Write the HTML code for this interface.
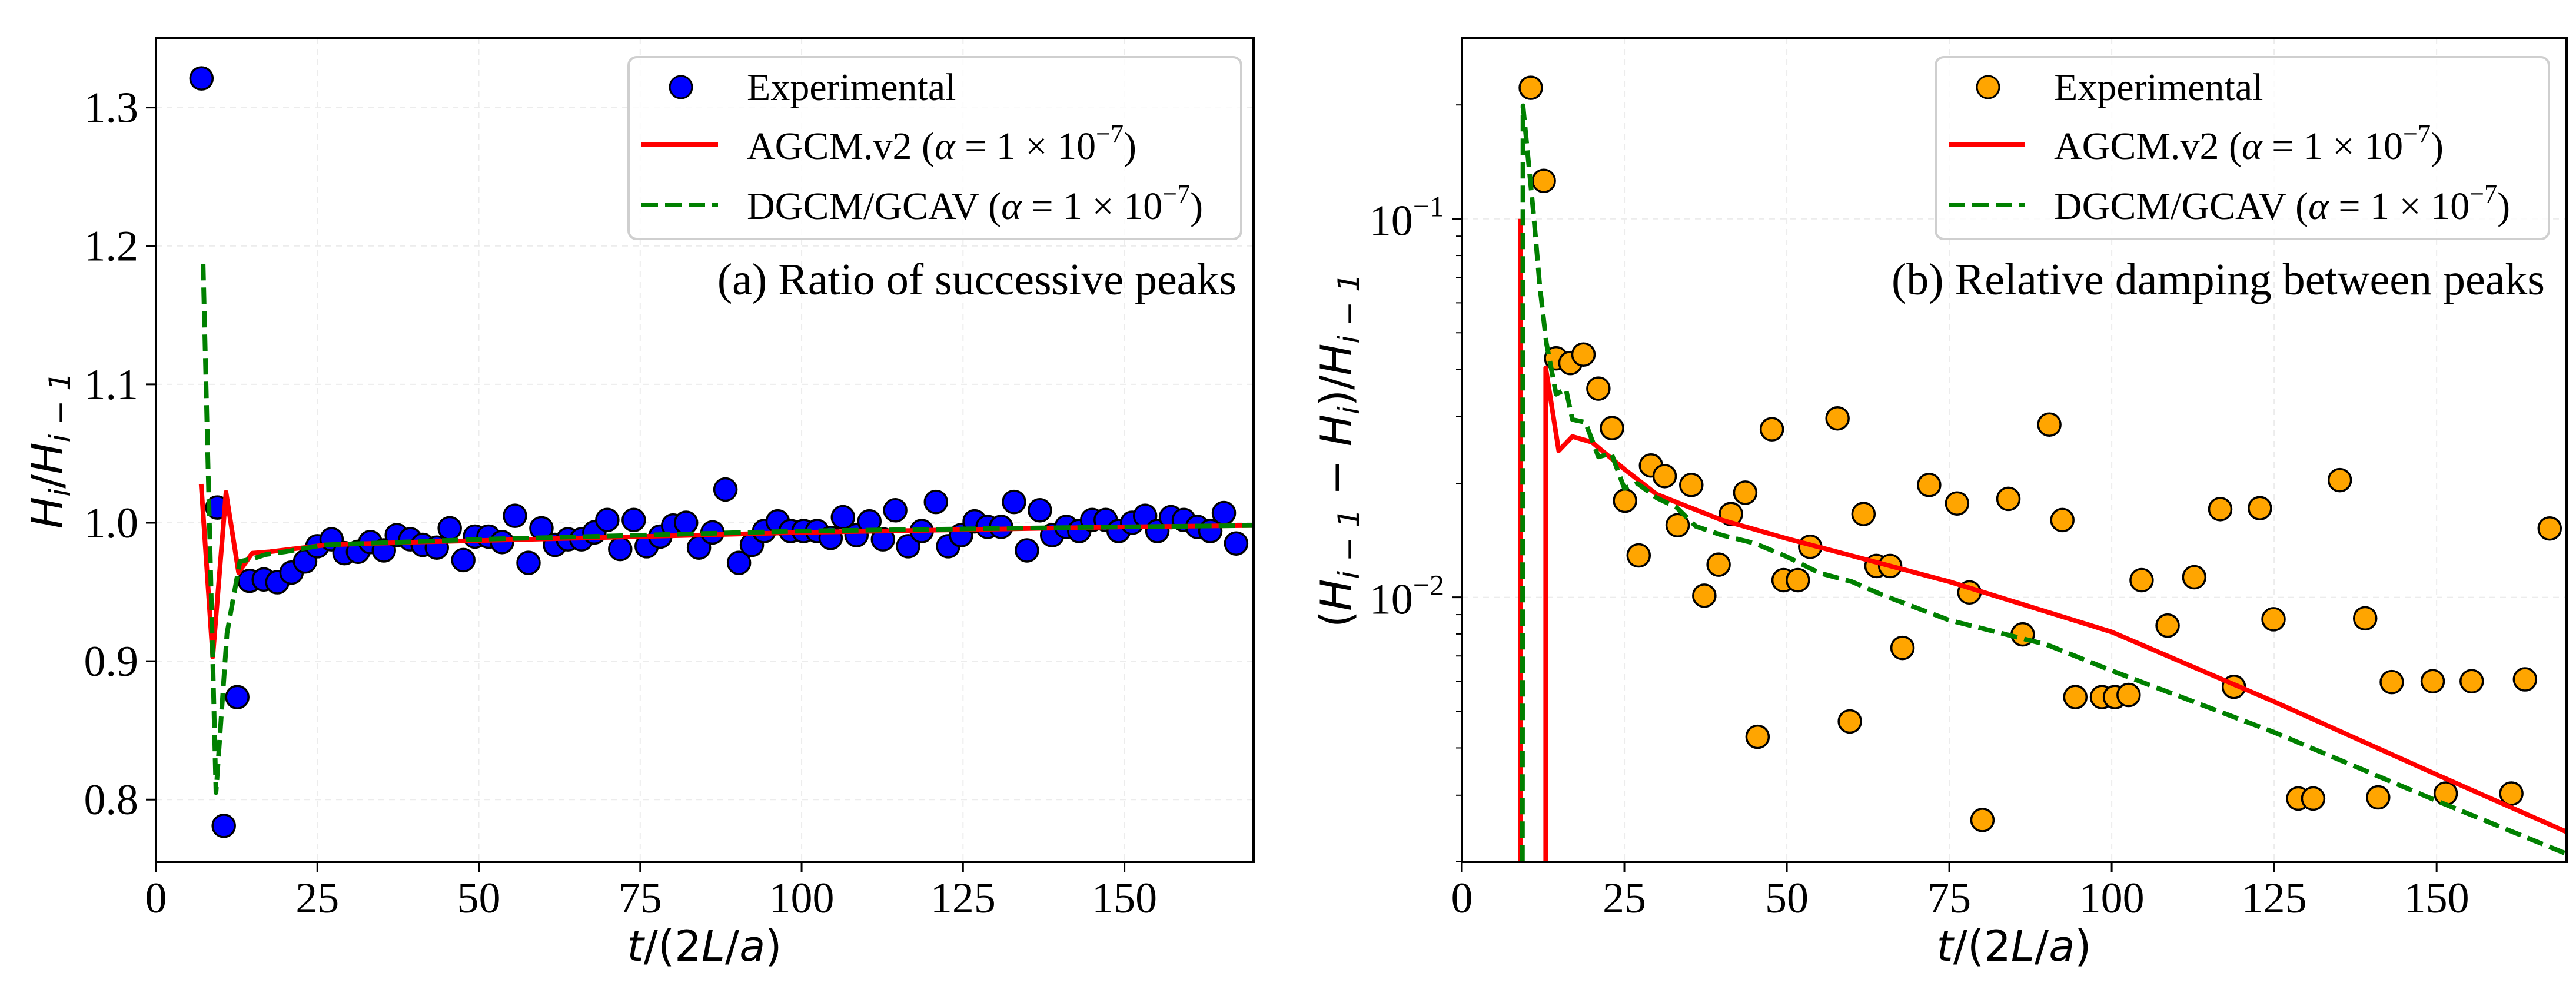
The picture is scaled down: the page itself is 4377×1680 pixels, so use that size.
<!DOCTYPE html>
<html><head><meta charset="utf-8">
<style>
html,body{margin:0;padding:0;background:#fff;overflow:hidden;width:4377px;height:1680px;}
svg{display:block;}
.tick{font-family:"Liberation Serif",serif;font-size:74px;fill:#000;}
.leg{font-family:"Liberation Serif",serif;font-size:66px;fill:#000;}
.ann{font-family:"Liberation Serif",serif;font-size:76px;fill:#000;}
.lab{font-family:"DejaVu Sans",sans-serif;font-size:72px;font-style:italic;fill:#000;}
.up{font-style:normal;}
</style></head>
<body>
<svg id="fig" width="4377" height="1680" viewBox="0 0 4377 1680" xmlns="http://www.w3.org/2000/svg">
<defs>
<clipPath id="clipA"><rect x="265" y="65" width="1865" height="1399"/></clipPath>
<clipPath id="clipB"><rect x="2484" y="65" width="1877" height="1399"/></clipPath>
</defs>
<rect x="0" y="0" width="4377" height="1680" fill="#fff"/>
<g id="gridA"></g>
<g id="gridB"></g>
<g id="plotA" clip-path="url(#clipA)"></g>
<g id="plotB" clip-path="url(#clipB)"></g>
<rect x="265" y="65" width="1865" height="1399" fill="none" stroke="#000" stroke-width="4"/>
<rect x="2484" y="65" width="1877" height="1399" fill="none" stroke="#000" stroke-width="4"/>
<g id="ticksA"></g>
<g id="ticksB"></g>

<text class="lab" x="1197" y="1632" text-anchor="middle">t<tspan class="up">/(2</tspan>L<tspan class="up">/</tspan>a<tspan class="up">)</tspan></text>
<text class="lab" x="3422" y="1632" text-anchor="middle">t<tspan class="up">/(2</tspan>L<tspan class="up">/</tspan>a<tspan class="up">)</tspan></text>
<text class="lab" transform="translate(105,765) rotate(-90)" text-anchor="middle">H<tspan font-size="50" dy="14">i</tspan><tspan class="up" dy="-14">/</tspan>H<tspan font-size="50" dy="14">i <tspan class="up">−</tspan> 1</tspan></text>
<text class="lab" transform="translate(2295,765) rotate(-90)" text-anchor="middle"><tspan class="up">(</tspan>H<tspan font-size="50" dy="14">i <tspan class="up">−</tspan> 1</tspan><tspan class="up" dy="-14"> − </tspan>H<tspan font-size="50" dy="14">i</tspan><tspan class="up" dy="-14">)/</tspan>H<tspan font-size="50" dy="14">i <tspan class="up">−</tspan> 1</tspan></text>

<g>
<rect x="1068" y="97" width="1041" height="309" rx="14" fill="#fff" fill-opacity="0.8" stroke="#cfcfcf" stroke-width="4"/>
<circle cx="1157" cy="148" r="19" fill="#0000ff" stroke="#000" stroke-width="3"/>
<text class="leg" x="1269" y="170">Experimental</text>
<line x1="1090" y1="246" x2="1220" y2="246" stroke="#ff0000" stroke-width="8"/>
<text class="leg" x="1269" y="270">AGCM.v2 (<tspan font-style="italic">α</tspan> = 1 × 10<tspan font-size="44" dy="-28">−7</tspan><tspan dy="28">)</tspan></text>
<line x1="1090" y1="348" x2="1220" y2="348" stroke="#008000" stroke-width="8" stroke-dasharray="28,12"/>
<text class="leg" x="1269" y="372">DGCM/GCAV (<tspan font-style="italic">α</tspan> = 1 × 10<tspan font-size="44" dy="-28">−7</tspan><tspan dy="28">)</tspan></text>
</g>
<text class="ann" x="2101" y="500" text-anchor="end">(a) Ratio of successive peaks</text>

<g>
<rect x="3289" y="97" width="1042" height="309" rx="14" fill="#fff" fill-opacity="0.8" stroke="#cfcfcf" stroke-width="4"/>
<circle cx="3378" cy="148" r="19" fill="#ffa500" stroke="#000" stroke-width="3"/>
<text class="leg" x="3490" y="170">Experimental</text>
<line x1="3311" y1="246" x2="3441" y2="246" stroke="#ff0000" stroke-width="8"/>
<text class="leg" x="3490" y="270">AGCM.v2 (<tspan font-style="italic">α</tspan> = 1 × 10<tspan font-size="44" dy="-28">−7</tspan><tspan dy="28">)</tspan></text>
<line x1="3311" y1="348" x2="3441" y2="348" stroke="#008000" stroke-width="8" stroke-dasharray="28,12"/>
<text class="leg" x="3490" y="372">DGCM/GCAV (<tspan font-style="italic">α</tspan> = 1 × 10<tspan font-size="44" dy="-28">−7</tspan><tspan dy="28">)</tspan></text>
</g>
<text class="ann" x="4324" y="500" text-anchor="end">(b) Relative damping between peaks</text>
</svg>
<script>
// ---- Panel (a) data ----
const expAT = [7.05,9.5,10.5,12.6,14.5,16.7,18.8,21,23.1,25,27.2,29.2,31.3,33.2,35.3,37.3,39.4,41.3,43.5,45.5,47.6,49.4,51.5,53.6,55.6,57.7,59.7,61.8,63.8,65.9,67.9,69.9,71.9,74,76,78.1,80.1,82.1,84.1,86.2,88.2,90.3,92.3,94.2,96.3,98.3,100.3,102.4,104.5,106.4,108.5,110.5,112.6,114.5,116.5,118.6,120.8,122.7,124.7,126.8,128.8,130.9,132.9,134.9,136.9,138.8,141,143,145,147.1,149.1,151.2,153.2,155.1,157.2,159.2,161.3,163.3,165.4,167.3];
const expAV = [1.321,1.011,0.781,0.874,0.958,0.959,0.957,0.964,0.972,0.983,0.988,0.978,0.979,0.986,0.980,0.991,0.988,0.984,0.982,0.996,0.973,0.990,0.990,0.986,1.005,0.971,0.996,0.984,0.988,0.988,0.993,1.002,0.981,1.002,0.983,0.990,0.998,1.000,0.982,0.993,1.024,0.971,0.984,0.994,1.001,0.994,0.994,0.994,0.989,1.004,0.991,1.001,0.988,1.009,0.983,0.994,1.015,0.983,0.991,1.001,0.997,0.997,1.015,0.980,1.009,0.991,0.997,0.994,1.002,1.002,0.994,1.000,1.005,0.994,1.004,1.002,0.997,0.994,1.007,0.985];
const agcmAT = [7,8.8,10.85,12.8,14.9,17.6,26.4,40,75,100,125,150,170];
const agcmAV = [1.028,0.903,1.022,0.964,0.978,0.979,0.984,0.986,0.990,0.993,0.995,0.997,0.998];
const dgcmAT = [7.3,9.3,11,13,15,17,20,26,50,100,150,170];
const dgcmAV = [1.187,0.805,0.92,0.972,0.974,0.977,0.979,0.984,0.988,0.994,0.997,0.998];
const xTicks = [0,25,50,75,100,125,150];
const yTicksA = [0.8,0.9,1.0,1.1,1.2,1.3];
const yTickLabelsA = ["0.8","0.9","1.0","1.1","1.2","1.3"];
// ---- Panel (b) data ----
const expBT = [10.6,12.6,14.5,16.7,18.7,21,23.1,25.1,27.2,29.1,31.2,33.2,35.3,37.3,39.5,41.4,43.6,45.5,47.7,49.5,51.7,53.6,57.8,59.7,61.8,63.8,65.9,67.8,71.9,76.2,78.1,80.1,84.1,86.3,90.4,92.4,94.4,98.5,100.5,102.6,104.6,108.6,112.7,116.7,118.8,122.8,124.9,128.7,131,135.1,139,141,143.1,149.4,151.4,155.4,161.5,163.6,167.4];
const expBV = [0.222,0.126,0.0428,0.0416,0.0438,0.0356,0.0280,0.0180,0.0129,0.0223,0.0209,0.0155,0.0198,0.0101,0.0122,0.0166,0.0189,0.00428,0.0278,0.0111,0.0111,0.0136,0.0297,0.0047,0.0166,0.0121,0.0121,0.00735,0.0198,0.0177,0.0103,0.00258,0.0182,0.00798,0.0286,0.0160,0.00545,0.00545,0.00545,0.00552,0.0111,0.00842,0.0113,0.0171,0.00580,0.0172,0.00875,0.00294,0.00294,0.0204,0.00880,0.00296,0.00597,0.00600,0.00303,0.00600,0.00303,0.00607,0.0152];
const agcmBT = [9,9,12.9,12.9,14.9,17,20,25,30,35,40,50,75,100,125,150,170];
const agcmBV = [0.1,0.00001,0.00001,0.0404,0.0244,0.0266,0.0257,0.0218,0.0187,0.0173,0.016,0.0143,0.0110,0.0081,0.0053,0.0034,0.0024];
const dgcmBT = [9.2,9.4,11,12,13,14.5,16,17,19,21,23,25,27,30,33,36,40,45,50,55,60,65,75,90,100,125,150,170];
const dgcmBV = [0.00001,0.199,0.104,0.066,0.047,0.0344,0.0355,0.0295,0.029,0.0235,0.024,0.0194,0.020,0.0183,0.0173,0.0154,0.0146,0.0139,0.0128,0.0116,0.0110,0.0101,0.0087,0.0075,0.0064,0.0044,0.0029,0.0021];

const NS = "http://www.w3.org/2000/svg";
function mk(tag, attrs, parent){const e=document.createElementNS(NS,tag);for(const k in attrs)e.setAttribute(k,attrs[k]);parent.appendChild(e);return e;}
const AX = {x0:265,x1:2130,y0:65,y1:1464};
const BX = {x0:2484,x1:4361,y0:65,y1:1464};
const xA = t => AX.x0 + t/170*(AX.x1-AX.x0);
const yA = v => AX.y0 + (1.35-v)/(1.35-0.755)*(AX.y1-AX.y0);
const xB = t => BX.x0 + t/170*(BX.x1-BX.x0);
const LT = Math.log10(0.3), LB = Math.log10(0.002);
const yB = v => BX.y0 + (LT-Math.log10(v))/(LT-LB)*(BX.y1-BX.y0);

const gA=document.getElementById('gridA'), gB=document.getElementById('gridB');
const pA=document.getElementById('plotA'), pB=document.getElementById('plotB');
const tA=document.getElementById('ticksA'), tB=document.getElementById('ticksB');

xTicks.forEach(t=>{
  const g=mk('line',{x1:xA(t),x2:xA(t),y1:AX.y0,y2:AX.y1,stroke:'#ececec','stroke-width':2,'stroke-dasharray':'10,8'},gA);
  
  
  const k=mk('line',{x1:xA(t),x2:xA(t),y1:AX.y1,y2:AX.y1+17,stroke:'#000','stroke-width':3},tA);
  
  
  const l=mk('text',{x:xA(t),y:AX.y1+86,'text-anchor':'middle','class':'tick'},tA);
  l.textContent=t;
  
  
  const g2=mk('line',{x1:xB(t),x2:xB(t),y1:BX.y0,y2:BX.y1,stroke:'#ececec','stroke-width':2,'stroke-dasharray':'10,8'},gB);
  
  
  const k2=mk('line',{x1:xB(t),x2:xB(t),y1:BX.y1,y2:BX.y1+17,stroke:'#000','stroke-width':3},tB);
  
  
  const l2=mk('text',{x:xB(t),y:BX.y1+86,'text-anchor':'middle','class':'tick'},tB);
  l2.textContent=t;
  
  
});
yTicksA.forEach((v,i)=>{
  const g=mk('line',{x1:AX.x0,x2:AX.x1,y1:yA(v),y2:yA(v),stroke:'#ececec','stroke-width':2,'stroke-dasharray':'10,8'},gA);
  
  
  const k=mk('line',{x1:AX.x0-17,x2:AX.x0,y1:yA(v),y2:yA(v),stroke:'#000','stroke-width':3},tA);
  
  
  const l=mk('text',{x:AX.x0-30,y:yA(v)+25,'text-anchor':'end','class':'tick'},tA);
  l.textContent=yTickLabelsA[i];
  
  
});
for(let d=-3; d<=-1; d++){
  for(let m=1;m<10;m++){
    const v=m*Math.pow(10,d);
    if(v<0.002||v>0.3) continue;
    const y=yB(v);
    if(m===1){
      const g=mk('line',{x1:BX.x0,x2:BX.x1,y1:y,y2:y,stroke:'#ececec','stroke-width':2,'stroke-dasharray':'10,8'},gB);
      
      
      const k=mk('line',{x1:BX.x0-17,x2:BX.x0,y1:y,y2:y,stroke:'#000','stroke-width':3},tB);
      
      
      const l=mk('text',{x:BX.x0-30,y:y+28,'text-anchor':'end','class':'tick'},tB);
      l.innerHTML='10<tspan font-size="50" dy="-32">−'+(-d)+'</tspan>';
      
      
    } else {
      const k=mk('line',{x1:BX.x0-10,x2:BX.x0,y1:y,y2:y,stroke:'#000','stroke-width':2},tB);
      
      
    }
  }
}
function line(ts,vs,fx,fy,color,dash,parent,name){
  const d=ts.map((t,i)=>(i?'L':'M')+fx(t).toFixed(1)+' '+fy(vs[i]).toFixed(1)).join(' ');
  const a={d:d,fill:'none',stroke:color,'stroke-width':8,'stroke-linejoin':'round'};
  if(dash) a['stroke-dasharray']=dash;
  const p=mk('path',a,parent);
  
  
}
function pts(ts,vs,fx,fy,color,parent,name){
  ts.forEach((t,i)=>{
    const c=mk('circle',{cx:fx(t),cy:fy(vs[i]),r:19,fill:color,stroke:'#000','stroke-width':3.5},parent);
    
    
  });
}
pts(expAT,expAV,xA,yA,'#0000ff',pA,'experimental-point-a');
line(agcmAT,agcmAV,xA,yA,'#ff0000',null,pA,'agcm-line-a');
line(dgcmAT,dgcmAV,xA,yA,'#008000','28,12',pA,'dgcm-line-a');
pts(expBT,expBV,xB,yB,'#ffa500',pB,'experimental-point-b');
line(agcmBT,agcmBV,xB,yB,'#ff0000',null,pB,'agcm-line-b');
line(dgcmBT,dgcmBV,xB,yB,'#008000','28,12',pB,'dgcm-line-b');
</script>
</body></html>
